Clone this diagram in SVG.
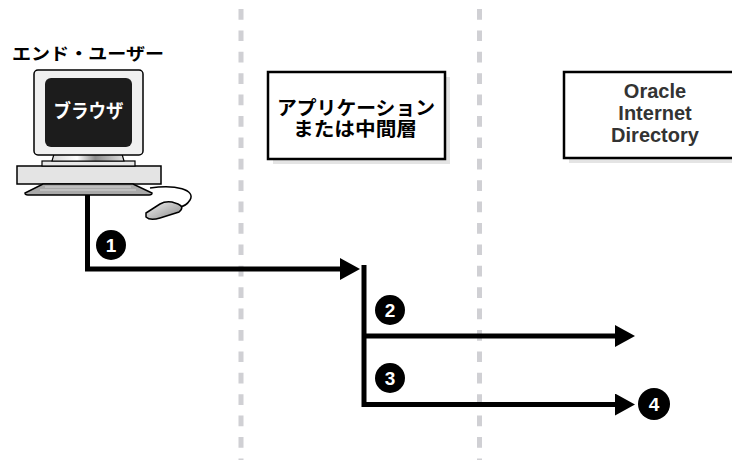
<svg xmlns="http://www.w3.org/2000/svg" width="732" height="460" viewBox="0 0 732 460">
  <style>
    .lane { stroke: #d0d0d4; stroke-width: 5; stroke-dasharray: 10.7 10.7; fill: none; }
    .box { fill: #ffffff; stroke: #000000; stroke-width: 2.5; }
    .shadow { fill: #e4e4e4; }
    .jp { font-family: "Noto Sans CJK JP", "Noto Sans", sans-serif; font-weight: bold; }
    .en { font-family: "Liberation Sans", Arial, sans-serif; font-weight: bold; }
    .conn { stroke: #000000; stroke-width: 5; fill: none; stroke-linejoin: miter; }
    .step circle { fill: #000000; }
    .step text { fill: #ffffff; font-family: "Liberation Sans", Arial, sans-serif; font-weight: bold; font-size: 19px; text-anchor: middle; }
  </style>
  <defs>
    <marker id="arrow" viewBox="0 0 20 22" refX="0" refY="11" markerWidth="20" markerHeight="22" markerUnits="userSpaceOnUse" orient="auto">
      <path d="M0,0 L20,11 L0,22 Z" fill="#000000"/>
    </marker>
    <linearGradient id="neck" x1="0" y1="0" x2="1" y2="0">
      <stop offset="0" stop-color="#d8d8d8"/>
      <stop offset="0.35" stop-color="#ffffff"/>
      <stop offset="0.6" stop-color="#8c8c8c"/>
      <stop offset="1" stop-color="#e0e0e0"/>
    </linearGradient>
    <linearGradient id="mouse" x1="0" y1="0" x2="1" y2="1">
      <stop offset="0" stop-color="#f4f4f4"/>
      <stop offset="1" stop-color="#8a8a8a"/>
    </linearGradient>
  </defs>

  <!-- swimlane separators -->
  <g id="lanes">
    <line class="lane" x1="241" y1="9" x2="241" y2="460"/>
    <line class="lane" x1="479.5" y1="9" x2="479.5" y2="460"/>
  </g>

  <!-- end user workstation -->
  <g id="end-user">
    <text class="jp" x="12" y="60" font-size="17" textLength="152" lengthAdjust="spacingAndGlyphs">エンド・ユーザー</text>
    <!-- cable -->
    <path d="M150,188 C176,184 196,190 190,200 C187,205 183,207 178,207" fill="none" stroke="#000" stroke-width="1.5"/>
    <!-- mouse -->
    <path d="M146,213 L160,204 Q165,201 172,202 L178,204 Q185,207 179,212 L160,218 Q150,221 146,217 Z" fill="url(#mouse)" stroke="#000" stroke-width="1.5"/>
    <!-- cpu case -->
    <rect x="17" y="166" width="144" height="18" fill="#e4e4e4" stroke="#000" stroke-width="1.5"/>
    <!-- keyboard -->
    <path d="M43,184 L133,184 L152,193 Q152,195 149,195 L28,195 Q25,195 25,193 Z" fill="#a9a9a9" stroke="#000" stroke-width="1.5"/>
    <line x1="45" y1="187" x2="131" y2="187" stroke="#d6d6d6" stroke-width="1"/>
    <line x1="40" y1="190" x2="136" y2="190" stroke="#d6d6d6" stroke-width="1"/>
    <!-- stand -->
    <rect x="42" y="161" width="93" height="5" fill="#e8e8e8" stroke="#000" stroke-width="1.2"/>
    <path d="M54,154 L122,154 L124,161 L52,161 Z" fill="url(#neck)" stroke="#000" stroke-width="1.2"/>
    <!-- monitor -->
    <rect x="34" y="70" width="109" height="85" rx="4" fill="#f0f0f0" stroke="#000" stroke-width="1.5"/>
    <rect x="45" y="78" width="87" height="69" rx="6" fill="#1c1c1c"/>
    <text class="jp" x="88.5" y="118" font-size="19" fill="#ffffff" text-anchor="middle" textLength="70" lengthAdjust="spacingAndGlyphs">ブラウザ</text>
  </g>

  <!-- application tier -->
  <g id="app-tier">
    <rect class="shadow" x="273" y="77" width="177" height="87"/>
    <rect class="box" x="268" y="72" width="177" height="87"/>
    <text class="jp" x="356" y="115" font-size="19" text-anchor="middle" textLength="158" lengthAdjust="spacingAndGlyphs">アプリケーション</text>
    <text class="jp" x="355" y="136" font-size="19" text-anchor="middle" textLength="124" lengthAdjust="spacingAndGlyphs">または中間層</text>
  </g>

  <!-- directory -->
  <g id="oid">
    <rect class="shadow" x="569" y="77" width="180" height="86"/>
    <rect class="box" x="564" y="72" width="180" height="86"/>
    <text class="en" x="655" y="98" font-size="20" fill="#333333" text-anchor="middle">Oracle</text>
    <text class="en" x="655" y="120" font-size="20" fill="#333333" text-anchor="middle">Internet</text>
    <text class="en" x="655" y="142" font-size="20" fill="#333333" text-anchor="middle">Directory</text>
  </g>

  <!-- message flow -->
  <g id="connectors">
    <path class="conn" d="M87.5,195 V269 H340" marker-end="url(#arrow)"/>
    <path class="conn" d="M364,265 V404.5 H615" marker-end="url(#arrow)"/>
    <path class="conn" d="M364,336 H615" marker-end="url(#arrow)"/>
  </g>

  <!-- step numbers -->
  <g id="steps" class="step">
    <g id="step-1"><circle cx="111" cy="245" r="15"/><text x="111" y="252">1</text></g>
    <g id="step-2"><circle cx="390" cy="310" r="15"/><text x="390" y="317">2</text></g>
    <g id="step-3"><circle cx="390" cy="378" r="15"/><text x="390" y="385">3</text></g>
    <g id="step-4"><circle cx="654" cy="404" r="16"/><text x="654" y="411">4</text></g>
  </g>
</svg>
